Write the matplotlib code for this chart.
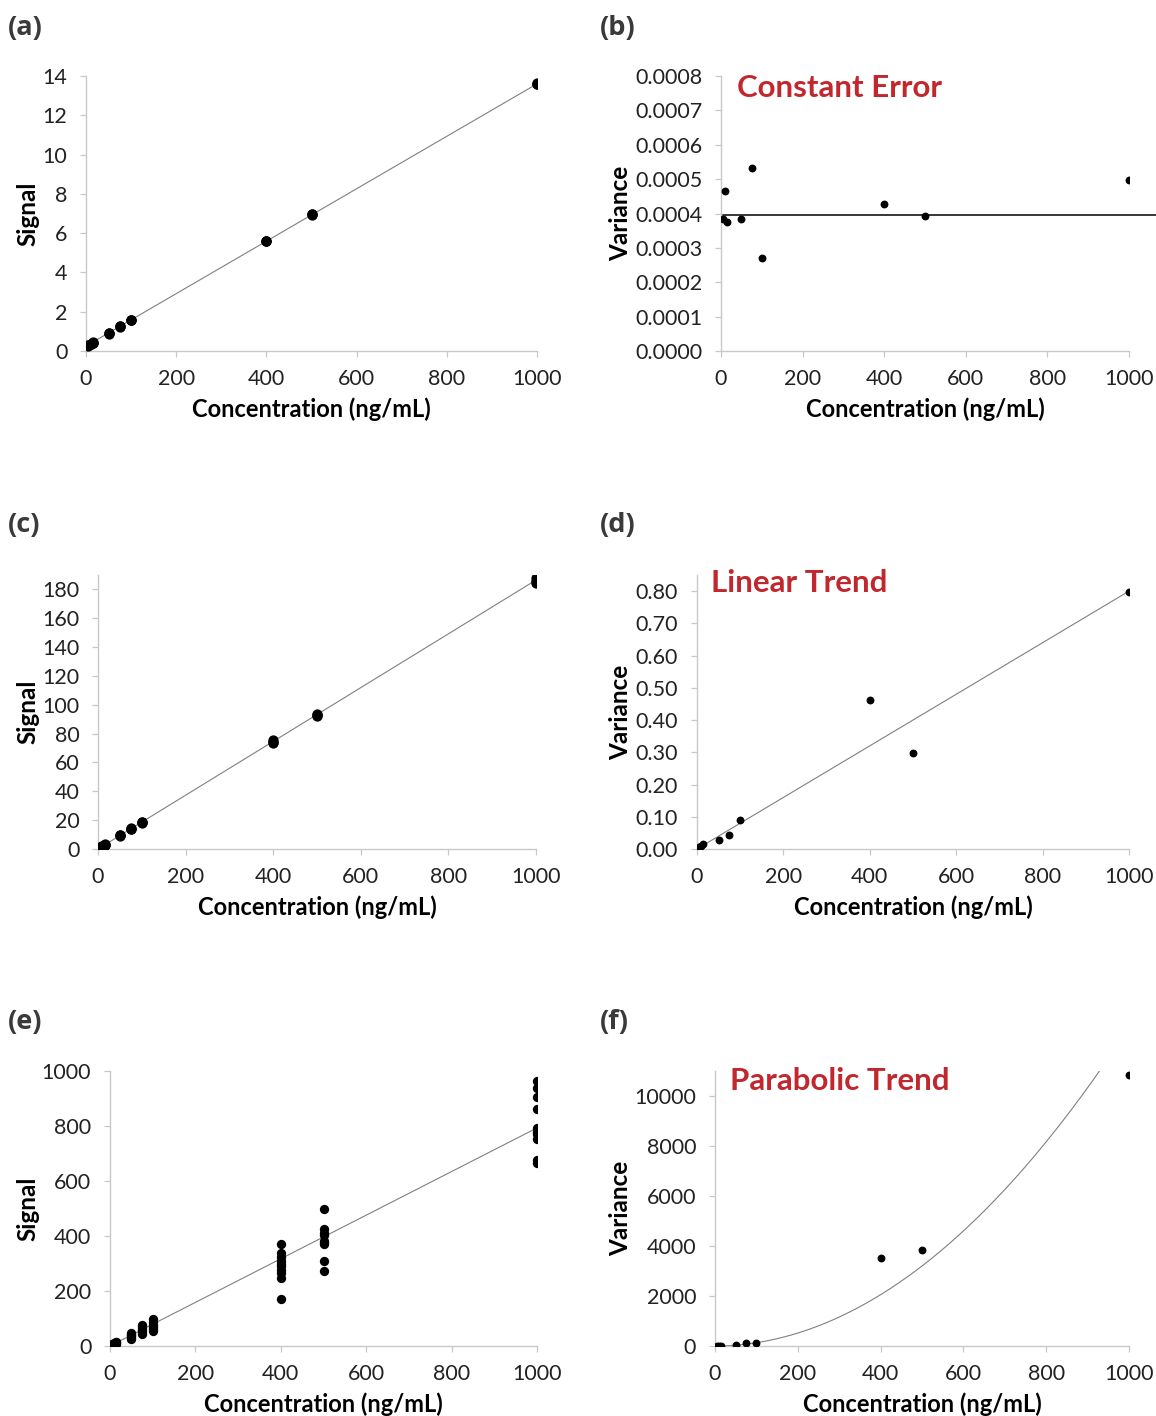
import numpy as np
import matplotlib
matplotlib.use('Agg')
import matplotlib.pyplot as plt

# --- Data ---
conc = [5, 10, 15, 50, 75, 100, 400, 500, 1000]

# replicate signals per concentration
signal_a = [[0.28, 0.30, 0.31], [0.35, 0.37, 0.38], [0.41, 0.43, 0.45],
            [0.88, 0.90, 0.92], [1.22, 1.25, 1.28], [1.56, 1.58, 1.60],
            [5.58, 5.60, 5.62], [6.92, 6.95, 6.98], [13.57, 13.60, 13.64]]
signal_c = [[1.0, 1.2, 1.5], [1.9, 2.1, 2.3], [2.8, 3.0, 3.2],
            [9.2, 9.5, 9.8], [13.6, 14.0, 14.3], [18.2, 18.6, 19.0],
            [73.5, 74.5, 75.8], [92.4, 93.0, 93.8], [184.7, 186.0, 187.8]]
signal_e = [[3, 4, 5, 6], [6, 8, 9, 11], [9, 11, 13, 15],
            [25, 30, 35, 40, 45, 48], [45, 52, 58, 65, 72, 78],
            [55, 62, 70, 78, 88, 100],
            [370, 337, 325, 310, 300, 290, 276, 264, 246, 172],
            [497, 424, 412, 405, 382, 375, 370, 309, 273],
            [963, 937, 905, 862, 792, 780, 770, 752, 676, 665]]

var_b = [0.000383, 0.000466, 0.000374, 0.000383, 0.000532, 0.000271,
         0.000428, 0.000393, 0.000497]
var_d = [0.007, 0.010, 0.015, 0.027, 0.042, 0.090, 0.462, 0.298, 0.797]
var_f = [2, 5, 8, 40, 108, 108, 3529, 3850, 10842]

# fitted trend coefficients
fit_a = (0.01335, 0.25)      # slope, intercept
fit_c = (0.1865, 0.0)
fit_e = (0.793, 0.0)
level_b = 0.000396
fit_d = (0.0008, 0.0)
fit_f = (0.0127, 0.05, 0.0)  # quadratic a, b, c

RED = '#C1272D'
GRID = '#c8c8c8'
W, H = 1156, 1416

plt.rcParams['font.family'] = ['Lato', 'DejaVu Sans']

fig = plt.figure(figsize=(W / 100, H / 100), dpi=100)
fig.patch.set_facecolor('white')


def px_axes(left, right, top, bottom):
    return fig.add_axes([left / W, 1 - bottom / H, (right - left) / W, (bottom - top) / H])


def style(ax, ylim, yticks, yfmt, ylabel, xlab_off, ylab_off):
    ax.set_xlim(0, 1000)
    ax.set_ylim(*ylim)
    ax.set_xticks(np.arange(0, 1001, 200))
    ax.set_yticks(yticks)
    ax.set_yticklabels([yfmt.format(v) for v in yticks])
    for s in ['top', 'right']:
        ax.spines[s].set_visible(False)
    for s in ['left', 'bottom']:
        ax.spines[s].set_color(GRID)
        ax.spines[s].set_linewidth(1.0)
    ax.tick_params(direction='out', length=4.5, width=0.9, color=GRID,
                   labelsize=15.5, labelcolor='#222222')
    ax.tick_params(axis='x', pad=8.5)
    ax.tick_params(axis='y', pad=9)
    ax.set_xlabel('Concentration (ng/mL)', fontsize=17, fontweight='bold', va='center')
    ax.set_ylabel(ylabel, fontsize=17.5, fontweight='bold', va='center')
    h = ax.get_position().height * H
    w = ax.get_position().width * W
    ax.xaxis.set_label_coords(0.5, -xlab_off / h)
    ax.yaxis.set_label_coords(-ylab_off / w, 0.5)


def scatter_reps(ax, reps, size):
    for x, ys in zip(conc, reps):
        ax.scatter([x] * len(ys), ys, s=size, color='black', zorder=3, linewidths=0)


xs = np.array([conc[0], conc[-1]])

# (a)
ax = px_axes(86, 537, 76, 351)
ax.plot(xs, fit_a[0] * xs + fit_a[1], color='#808080', lw=0.8, zorder=2)
scatter_reps(ax, signal_a, 55)
style(ax, (0, 14), np.arange(0, 15, 2), '{:g}', 'Signal', 58, 58)

# (b)
ax = px_axes(721, 1129, 76, 351)
ax.plot([conc[0], 1100], [level_b, level_b], color='black', lw=1.1, clip_on=False, zorder=2)
ax.scatter(conc, var_b, s=32, color='black', zorder=3, linewidths=0)
style(ax, (0, 0.0008), np.arange(0, 0.00081, 0.0001), '{:.4f}', 'Variance', 58, 100)
ax.text(0.04, 0.955, 'Constant Error', transform=ax.transAxes, color=RED,
        fontsize=22.5, fontweight='bold', va='center', ha='left')

# (c)
ax = px_axes(98, 536, 575, 849)
ax.plot(xs, fit_c[0] * xs + fit_c[1], color='#808080', lw=0.8, zorder=2)
scatter_reps(ax, signal_c, 55)
style(ax, (0, 190), np.arange(0, 181, 20), '{:g}', 'Signal', 58, 70)

# (d)
ax = px_axes(697, 1129, 575, 849)
ax.plot(xs, fit_d[0] * xs + fit_d[1], color='#808080', lw=0.8, zorder=2)
ax.scatter(conc, var_d, s=32, color='black', zorder=3, linewidths=0)
style(ax, (0, 0.85), np.arange(0, 0.81, 0.1), '{:.2f}', 'Variance', 58, 76)
ax.text(0.032, 0.97, 'Linear Trend', transform=ax.transAxes, color=RED,
        fontsize=22.5, fontweight='bold', va='center', ha='left')

# (e)
ax = px_axes(110, 537, 1071, 1346)
ax.plot(xs, fit_e[0] * xs + fit_e[1], color='#808080', lw=0.8, zorder=2)
scatter_reps(ax, signal_e, 45)
style(ax, (0, 1000), np.arange(0, 1001, 200), '{:g}', 'Signal', 58, 82)

# (f)
ax = px_axes(715, 1129, 1071, 1346)
xq = np.linspace(conc[0], conc[-1], 300)
ax.plot(xq, fit_f[0] * xq ** 2 + fit_f[1] * xq + fit_f[2], color='#808080', lw=0.8, zorder=2)
ax.scatter(conc, var_f, s=32, color='black', zorder=3, linewidths=0)
style(ax, (0, 11000), np.arange(0, 10001, 2000), '{:g}', 'Variance', 58, 94)
ax.text(0.036, 0.965, 'Parabolic Trend', transform=ax.transAxes, color=RED,
        fontsize=22.5, fontweight='bold', va='center', ha='left')

# panel letters
for lab, x, y in [('(a)', 8, 28), ('(b)', 600, 28), ('(c)', 8, 525),
                  ('(d)', 600, 525), ('(e)', 8, 1022), ('(f)', 600, 1022)]:
    fig.text(x / W, 1 - y / H, lab, fontsize=19.5, fontweight='bold', color='#3a3a3a',
             family=['Open Sans', 'DejaVu Sans'], va='center', ha='left')

fig.savefig('out.png', dpi=100, facecolor='white')
